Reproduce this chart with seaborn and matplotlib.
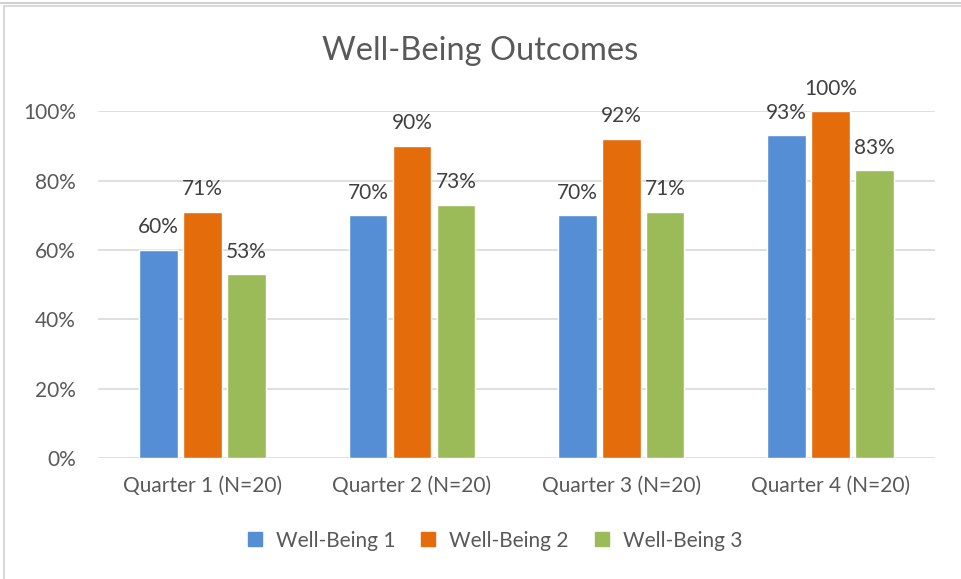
import numpy as np
import pandas as pd
import seaborn as sns
import matplotlib.pyplot as plt
from matplotlib.patches import Rectangle
from matplotlib.lines import Line2D

# chart data
quarters = ['Quarter 1 (N=20)', 'Quarter 2 (N=20)', 'Quarter 3 (N=20)', 'Quarter 4 (N=20)']
series = ['Well-Being 1', 'Well-Being 2', 'Well-Being 3']
wb1 = [0.60, 0.70, 0.70, 0.93]
wb2 = [0.71, 0.90, 0.92, 1.00]
wb3 = [0.53, 0.73, 0.71, 0.83]
colors = ['#558ED5', '#E46C0A', '#9BBB59']

df = pd.DataFrame({
    'Quarter': quarters * 3,
    'Series': [s for s in series for _ in quarters],
    'Value': wb1 + wb2 + wb3,
})

sns.set_style('white')
plt.rcParams['font.family'] = ['Lato', 'DejaVu Sans']
text_col = '#595959'

fig = plt.figure(figsize=(9.61, 5.79), dpi=100)
ax = fig.add_axes([0.102, 0.209, 0.871, 0.599])

sns.barplot(data=df, x='Quarter', y='Value', hue='Series', palette=colors,
            width=0.63, gap=0.12, ax=ax, legend=False, saturation=1)

for cont in ax.containers:
    labels = [f'{v * 100:.0f}%' for v in cont.datavalues]
    ax.bar_label(cont, labels=labels, padding=9, fontsize=15, color='#404040')

ax.set_ylim(0, 1)
ax.set_yticks(np.arange(0, 1.01, 0.2))
ax.set_yticklabels([f'{int(round(t * 100))}%' for t in np.arange(0, 1.01, 0.2)])
ax.set_xlim(-0.5, 3.5)
ax.yaxis.grid(True, color='#D9D9D9', linewidth=1.2)
ax.set_axisbelow(True)
for s in ax.spines.values():
    s.set_visible(False)
ax.tick_params(axis='both', length=0, labelsize=15, labelcolor=text_col)
ax.tick_params(axis='x', pad=13)
ax.tick_params(axis='y', pad=16)
ax.set_xlabel('')
ax.set_ylabel('')
fig.suptitle('Well-Being Outcomes', x=0.5, y=0.937, fontsize=23.5, color=text_col)

handles = [Line2D([0], [0], marker='s', linestyle='', markersize=10,
                  markerfacecolor=c, markeredgecolor=c) for c in colors]
fig.legend(handles, series, loc='center', bbox_to_anchor=(0.508, 0.066), ncol=3,
           frameon=False, fontsize=15, labelcolor=text_col, handletextpad=0.0,
           columnspacing=0.6)

# outer chart border
fig.patches.append(Rectangle((0.004, -0.01), 1.0, 1.0 - 0.0005, transform=fig.transFigure,
                             fill=False, edgecolor='#D9D9D9', linewidth=1.5))
fig.lines.append(Line2D([0, 1], [0.995, 0.995], transform=fig.transFigure,
                        color='#D0D0D0', linewidth=1.5))

fig.savefig('out.png', dpi=100)
